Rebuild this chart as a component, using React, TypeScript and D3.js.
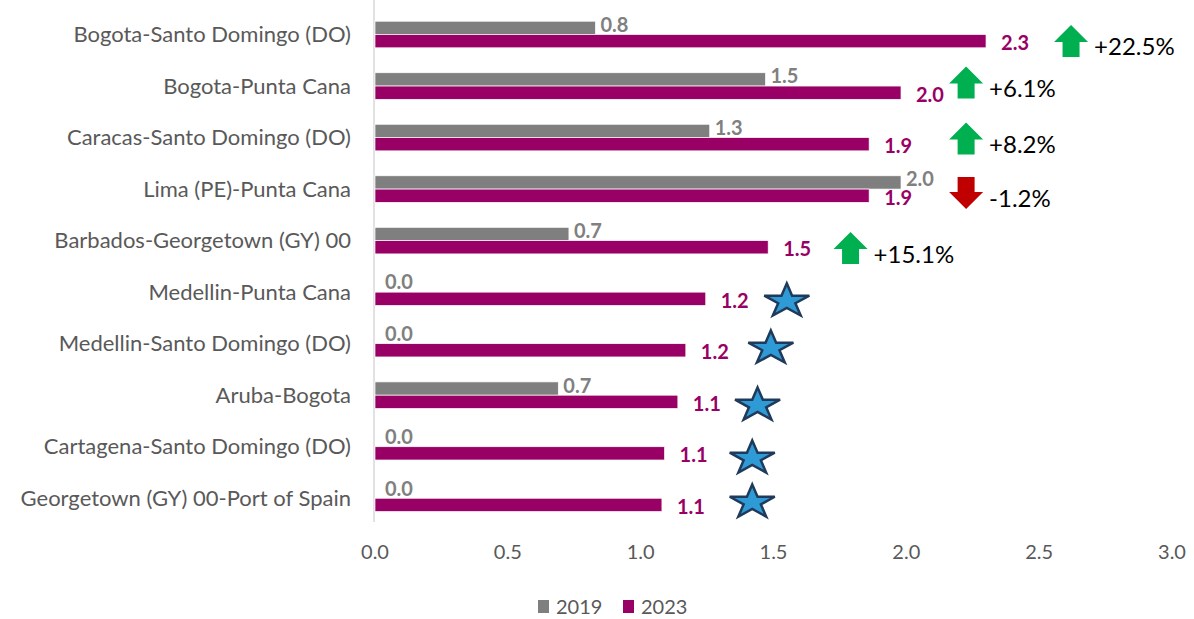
import React, { useEffect, useRef } from 'react';
import * as d3 from 'd3';

const routes = [
  'Bogota-Santo Domingo (DO)',
  'Bogota-Punta Cana',
  'Caracas-Santo Domingo (DO)',
  'Lima (PE)-Punta Cana',
  'Barbados-Georgetown (GY) 00',
  'Medellin-Punta Cana',
  'Medellin-Santo Domingo (DO)',
  'Aruba-Bogota',
  'Cartagena-Santo Domingo (DO)',
  'Georgetown (GY) 00-Port of Spain',
];
const seriesNames = ['2019', '2023'];
const values2019 = [0.83, 1.47, 1.26, 1.98, 0.73, 0, 0, 0.69, 0, 0];
const values2023 = [2.3, 1.98, 1.86, 1.86, 1.48, 1.245, 1.17, 1.14, 1.09, 1.08];
// growth vs 2019 (null = new route, marked with a star)
const changes: (number | null)[] = [22.5, 6.1, 8.2, -1.2, 15.1, null, null, null, null, null];
// where the arrow / star marker sits, in axis units
const markerAt = [2.62, 2.225, 2.225, 2.225, 1.79, 1.55, 1.49, 1.44, 1.42, 1.42];
const xTicks = [0, 0.5, 1, 1.5, 2, 2.5, 3];

// vertical nudges of the markers, px from row centre
const markerDy = [6.5, -3.5, 1, 4, 7.5, 9, 4.5, 10, 11.5, 4];

const App: React.FC = () => {
  const ref = useRef<SVGSVGElement>(null);

  useEffect(() => {
    if (!ref.current) return;
    const width = 1194;
    const height = 619;
    const margin = { top: 8.75, right: 22, bottom: 95, left: 375 };
    const font = 'Lato, "Open Sans", sans-serif';

    const svg = d3.select(ref.current);
    svg.selectAll('*').remove();

    const x = d3.scaleLinear().domain([0, 3]).range([margin.left, width - margin.right]);
    const y = d3
      .scaleBand<string>()
      .domain(routes)
      .range([margin.top, height - margin.bottom]);
    const barH = 13.3;

    // axis line
    svg
      .append('line')
      .attr('x1', x(0) - 1)
      .attr('x2', x(0) - 1)
      .attr('y1', 0)
      .attr('y2', height - margin.bottom - 2)
      .attr('stroke', '#d9d9d9')
      .attr('stroke-width', 1.5);

    // x tick labels
    svg
      .append('g')
      .selectAll('text')
      .data(xTicks)
      .enter()
      .append('text')
      .attr('x', (d) => x(d))
      .attr('y', 559)
      .attr('text-anchor', 'middle')
      .attr('font-family', font)
      .attr('font-size', 20)
      .attr('fill', '#595959')
      .text((d) => d3.format('.1f')(d));

    // category labels
    svg
      .append('g')
      .selectAll('text')
      .data(routes)
      .enter()
      .append('text')
      .attr('x', 351)
      .attr('y', (d) => y(d)! + y.bandwidth() / 2)
      .attr('dy', '0.35em')
      .attr('text-anchor', 'end')
      .attr('font-family', font)
      .attr('font-size', 22)
      .attr('fill', '#595959')
      .text((d) => d);

    const rows = routes.map((r, i) => ({
      route: r,
      v19: values2019[i],
      v23: values2023[i],
      change: changes[i],
      at: markerAt[i],
      dy: markerDy[i],
      cy: y(r)! + y.bandwidth() / 2,
    }));

    // bars
    svg
      .append('g')
      .selectAll('rect')
      .data(rows)
      .enter()
      .append('rect')
      .attr('x', x(0))
      .attr('y', (d) => d.cy - barH)
      .attr('width', (d) => x(d.v19) - x(0))
      .attr('height', barH)
      .attr('fill', '#7f7f7f')
      .attr('stroke', '#ffffff')
      .attr('stroke-width', 0.7);

    svg
      .append('g')
      .selectAll('rect')
      .data(rows)
      .enter()
      .append('rect')
      .attr('x', x(0))
      .attr('y', (d) => d.cy)
      .attr('width', (d) => x(d.v23) - x(0))
      .attr('height', barH)
      .attr('fill', '#990066')
      .attr('stroke', '#ffffff')
      .attr('stroke-width', 0.7);

    const fmt = (v: number) => v.toFixed(1);

    // value labels
    svg
      .append('g')
      .selectAll('text')
      .data(rows)
      .enter()
      .append('text')
      .attr('x', (d) => x(d.v19) + (d.v19 === 0 ? 10 : 5))
      .attr('y', (d) => d.cy - barH / 2 - 3)
      .attr('dy', '0.35em')
      .attr('font-family', font)
      .attr('font-size', 20)
      .attr('font-weight', 'bold')
      .attr('fill', '#808080')
      .text((d) => fmt(d.v19));

    svg
      .append('g')
      .selectAll('text')
      .data(rows)
      .enter()
      .append('text')
      .attr('x', (d) => x(d.v23) + 15)
      .attr('y', (d) => d.cy + barH / 2 + 2)
      .attr('dy', '0.35em')
      .attr('font-family', font)
      .attr('font-size', 20)
      .attr('font-weight', 'bold')
      .attr('fill', '#990066')
      .text((d) => fmt(d.v23));

    // arrows
    const arrowPath = (up: boolean) => {
      const s = up ? 1 : -1;
      const p = d3.path();
      p.moveTo(0, -16 * s);
      p.lineTo(17, 1 * s);
      p.lineTo(8.5, 1 * s);
      p.lineTo(8.5, 16 * s);
      p.lineTo(-8.5, 16 * s);
      p.lineTo(-8.5, 1 * s);
      p.lineTo(-17, 1 * s);
      p.closePath();
      return p.toString();
    };

    const withChange = rows.filter((d) => d.change !== null);
    const arrows = svg
      .append('g')
      .selectAll('g')
      .data(withChange)
      .enter()
      .append('g')
      .attr('transform', (d) => `translate(${x(d.at)},${d.cy + d.dy})`);

    arrows
      .append('path')
      .attr('d', (d) => arrowPath(d.change! >= 0))
      .attr('fill', (d) => (d.change! >= 0 ? '#00b050' : '#c00000'));

    arrows
      .append('text')
      .attr('x', 23)
      .attr('y', 6)
      .attr('dy', '0.35em')
      .attr('font-family', font)
      .attr('font-size', 24)
      .attr('fill', '#000000')
      .text((d) => (d.change! >= 0 ? '+' : '') + fmt(d.change!) + '%');

    // stars for new routes
    const star = d3.symbol().type(d3.symbolStar).size(630);
    svg
      .append('g')
      .selectAll('path')
      .data(rows.filter((d) => d.change === null))
      .enter()
      .append('path')
      .attr('d', star()!)
      .attr('transform', (d) => `translate(${x(d.at)},${d.cy + d.dy}) scale(1,0.75)`)
      .attr('fill', '#2e9bd6')
      .attr('stroke', '#1f3a5a')
      .attr('stroke-width', 2.5)
      .attr('vector-effect', 'non-scaling-stroke')
      .attr('stroke-linejoin', 'miter');

    // legend
    const legend = svg
      .append('g')
      .selectAll('g')
      .data(seriesNames)
      .enter()
      .append('g')
      .attr('transform', (d, i) => `translate(${538 + i * 85},600)`);
    legend
      .append('rect')
      .attr('width', 11)
      .attr('height', 13)
      .attr('fill', (d, i) => (i === 0 ? '#7f7f7f' : '#990066'));
    legend
      .append('text')
      .attr('x', 18)
      .attr('y', 7)
      .attr('dy', '0.35em')
      .attr('font-family', font)
      .attr('font-size', 20)
      .attr('fill', '#595959')
      .text((d) => d);
  }, []);

  return (
    <svg
      ref={ref}
      width={1194}
      height={619}
      style={{ position: 'absolute', left: 0, top: 0, background: '#fff' }}
    />
  );
};

export default App;
